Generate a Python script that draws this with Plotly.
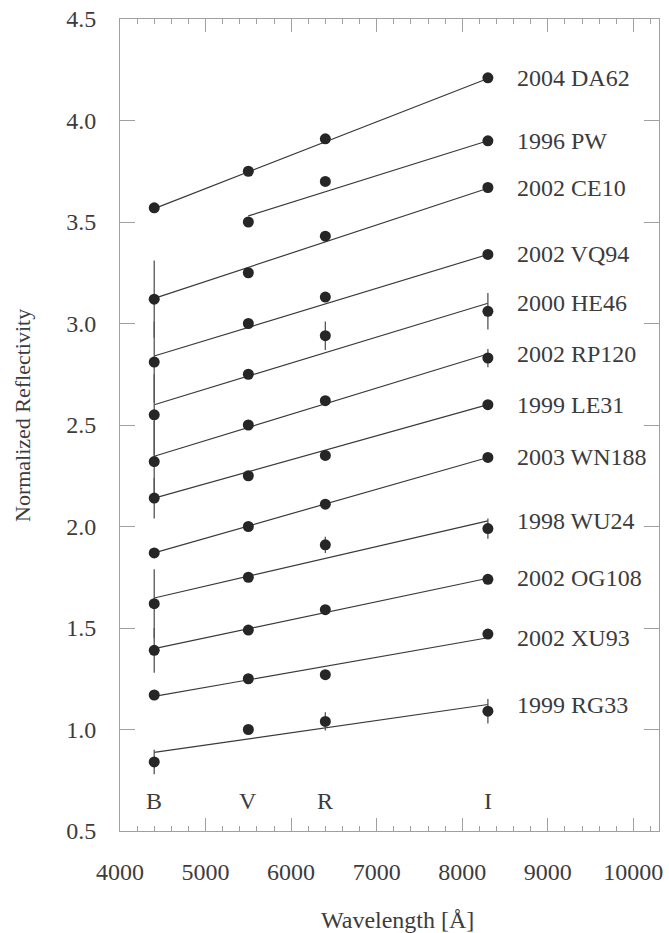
import plotly.graph_objects as go

bands = ["B", "V", "R", "I"]
wavelengths = [4400, 5500, 6400, 8300]

names = ["2004 DA62", "1996 PW", "2002 CE10", "2002 VQ94", "2000 HE46", "2002 RP120",
         "1999 LE31", "2003 WN188", "1998 WU24", "2002 OG108", "2002 XU93", "1999 RG33"]

# reflectivity at B, V, R, I (None = not measured)
values = [
    [3.57, 3.75, 3.91, 4.21],
    [None, 3.50, 3.70, 3.90],
    [3.12, 3.25, 3.43, 3.67],
    [2.81, 3.00, 3.13, 3.34],
    [2.55, 2.75, 2.94, 3.06],
    [2.32, 2.50, 2.62, 2.83],
    [2.14, 2.25, 2.35, 2.60],
    [1.87, 2.00, 2.11, 2.34],
    [1.62, 1.75, 1.91, 1.99],
    [1.39, 1.49, 1.59, 1.74],
    [1.17, 1.25, 1.27, 1.47],
    [0.84, 1.00, 1.04, 1.09],
]

errors = [
    [0, 0, 0, 0],
    [0, 0, 0, 0],
    [0.19, 0, 0, 0],
    [0.20, 0, 0, 0],
    [0.20, 0, 0.07, 0.09],
    [0.20, 0, 0, 0.045],
    [0.10, 0, 0, 0],
    [0, 0, 0, 0],
    [0.17, 0, 0.04, 0.05],
    [0.11, 0, 0, 0],
    [0, 0, 0, 0],
    [0.06, 0, 0.045, 0.06],
]

# linear fit line: start wavelength, start value, end value (at I)
fit_start_wl = [4400, 5500, 4400, 4400, 4400, 4400, 4400, 4400, 4400, 4400, 4400, 4400]
fit_start = [3.566, 3.53, 3.124, 2.84, 2.60, 2.346, 2.14, 1.87, 1.648, 1.398, 1.163, 0.887]
fit_end = [4.207, 3.90, 3.666, 3.34, 3.10, 2.85, 2.60, 2.34, 2.028, 1.745, 1.452, 1.123]

x_tickvals = [4000, 5000, 6000, 7000, 8000, 9000, 10000]
x_ticktext = ["4000", "5000", "6000", "7000", "8000", "9000", "10000"]
y_tickvals = [0.5, 1.0, 1.5, 2.0, 2.5, 3.0, 3.5, 4.0, 4.5]
y_ticktext = ["0.5", "1.0", "1.5", "2.0", "2.5", "3.0", "3.5", "4.0", "4.5"]

FONT = "Liberation Serif"
TXT = "#3c3c3c"
AX = "#a0a0a0"

fig = go.Figure()

for i, name in enumerate(names):
    fig.add_trace(go.Scatter(
        x=[fit_start_wl[i], wavelengths[-1]], y=[fit_start[i], fit_end[i]],
        mode="lines", line=dict(color="#3a3a3a", width=1.2),
        showlegend=False, hoverinfo="skip"))

for i, name in enumerate(names):
    xs, ys, es = [], [], []
    for w, v, e in zip(wavelengths, values[i], errors[i]):
        if v is None:
            continue
        xs.append(w); ys.append(v); es.append(e)
    fig.add_trace(go.Scatter(
        x=xs, y=ys, mode="markers", name=name,
        marker=dict(color="#262626", size=11),
        error_y=dict(type="data", array=es, visible=True, width=0,
                     color="#555555", thickness=1.3),
        showlegend=False))

annotations = []
for i, name in enumerate(names):
    annotations.append(dict(
        x=wavelengths[-1], y=fit_end[i], xref="x", yref="y",
        text=name, showarrow=False, xanchor="left", yanchor="middle",
        xshift=27, font=dict(family=FONT, size=24, color=TXT)))

for b, w in zip(bands, wavelengths):
    annotations.append(dict(
        x=w, y=0.65, xref="x", yref="y", text=b, showarrow=False,
        xanchor="center", yanchor="middle",
        font=dict(family=FONT, size=24, color=TXT)))

annotations.append(dict(
    x=0, y=0.5, xref="paper", yref="paper", text="Normalized Reflectivity",
    textangle=-90, showarrow=False, xanchor="center", yanchor="middle",
    xshift=-98, yshift=9, font=dict(family=FONT, size=22, color=TXT)))
annotations.append(dict(
    x=0.5, y=0, xref="paper", yref="paper", text="Wavelength [Å]",
    showarrow=False, xanchor="center", yanchor="middle",
    xshift=8, yshift=-89, font=dict(family=FONT, size=24, color=TXT)))

fig.update_layout(
    width=669, height=933,
    margin=dict(l=120, r=6, t=17, b=102),
    paper_bgcolor="white", plot_bgcolor="white",
    font=dict(family=FONT, color=TXT),
    annotations=annotations,
    showlegend=False,
)

fig.update_xaxes(
    range=[4000, 10300], tickvals=x_tickvals, ticktext=x_ticktext,
    ticks="inside", ticklen=13, tickcolor=AX, tickwidth=1,
    showline=True, linecolor=AX, linewidth=1, mirror="ticks",
    showgrid=False, zeroline=False,
    minor=dict(dtick=200, tick0=4000, ticks="inside", ticklen=5, tickcolor=AX, showgrid=False),
    tickfont=dict(family=FONT, size=24, color=TXT),
    ticklabelstandoff=19,
)
fig.update_yaxes(
    range=[0.5, 4.5], tickvals=y_tickvals, ticktext=y_ticktext,
    ticks="inside", ticklen=15, tickcolor=AX, tickwidth=1,
    showline=True, linecolor=AX, linewidth=1, mirror="ticks",
    showgrid=False, zeroline=False,
    tickfont=dict(family=FONT, size=24, color=TXT),
    ticklabelstandoff=18,
)

fig.write_html("out.html")
